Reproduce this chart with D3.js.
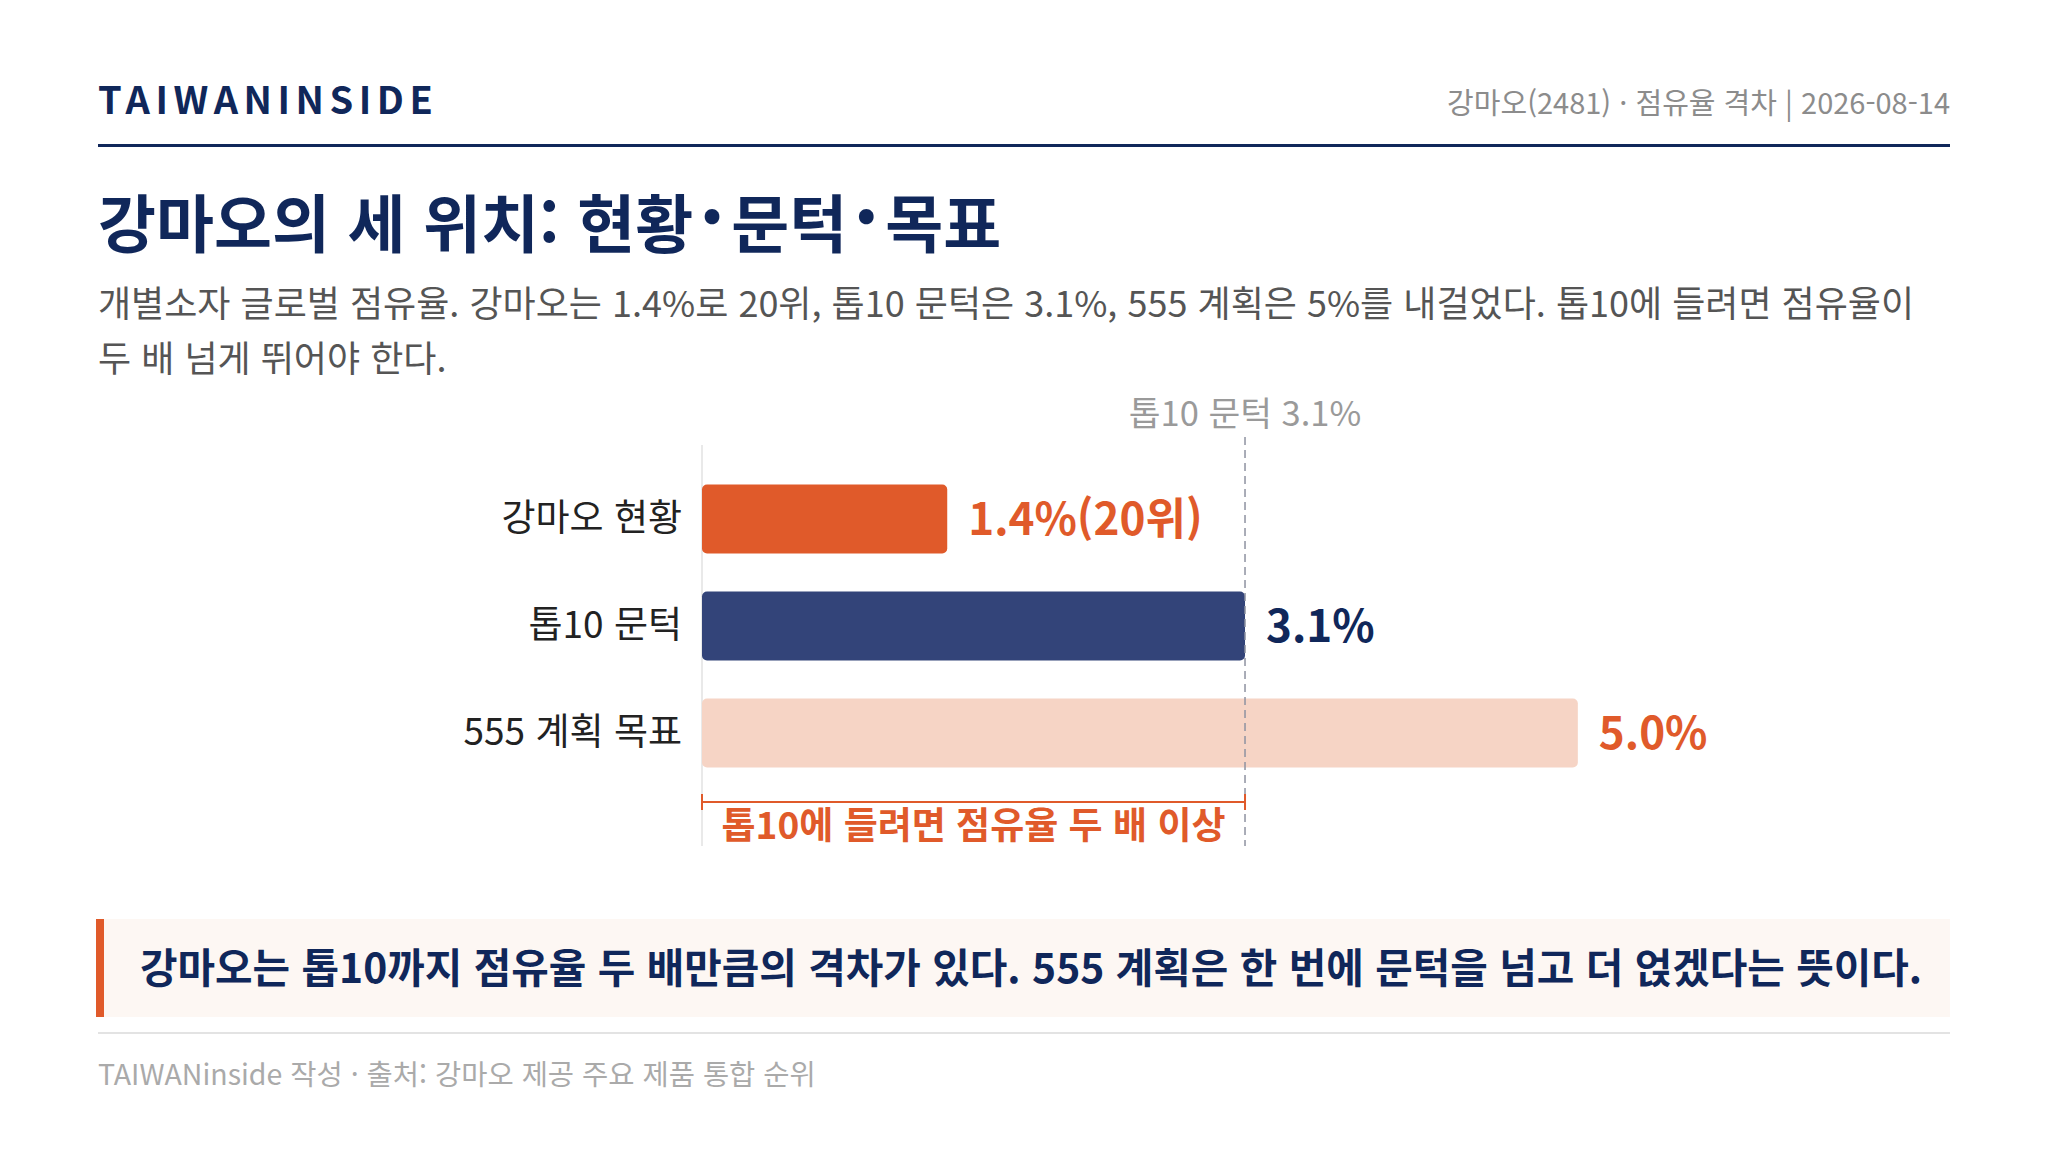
<!DOCTYPE html>
<html lang="ko">
<head>
<meta charset="utf-8">
<script src="https://cdn.jsdelivr.net/npm/d3@7"></script>
<style>
  html, body { margin: 0; padding: 0; background: #fff; }
  svg { display: block; font-family: "Noto Sans CJK KR", "Noto Sans", sans-serif; }
</style>
</head>
<body>
<div id="chart"></div>
<script>
// data
const categories = ["강마오 현황", "톱10 문턱", "555 계획 목표"];
const shares = [1.4, 3.1, 5.0];
const valueLabels = ["1.4%(20위)", "3.1%", "5.0%"];
const threshold = 3.1;
const thresholdLabel = "톱10 문턱 3.1%";
const gapLabel = "톱10에 들려면 점유율 두 배 이상";

const titleText = "강마오의 세 위치: 현황·문턱·목표";
const subtitleLines = [
  "개별소자 글로벌 점유율. 강마오는 1.4%로 20위, 톱10 문턱은 3.1%, 555 계획은 5%를 내걸었다. 톱10에 들려면 점유율이",
  "두 배 넘게 뛰어야 한다."
];
const metaText = "강마오(2481) · 점유율 격차 | 2026-08-14";
const calloutText = "강마오는 톱10까지 점유율 두 배만큼의 격차가 있다. 555 계획은 한 번에 문턱을 넘고 더 얹겠다는 뜻이다.";
const footerText = "TAIWANinside 작성 · 출처: 강마오 제공 주요 제품 통합 순위";

const W = 2046, H = 1151;
const left = 98, right = 1950;
const navy = "#10275a";
const orange = "#e05a2a";
const barColors = ["#e05a2a", "#334479", "#f6d4c5"];
const labelColors = [orange, navy, orange];

const svg = d3.select("#chart").append("svg")
    .attr("width", W)
    .attr("height", H);

// header
svg.append("text")
    .attr("x", left).attr("y", 114)
    .attr("font-size", 38).attr("font-weight", 700)
    .attr("letter-spacing", 5.5)
    .attr("fill", navy)
    .text("TAIWANINSIDE");

svg.append("text")
    .attr("x", right).attr("y", 114)
    .attr("text-anchor", "end")
    .attr("font-size", 29)
    .attr("fill", "#8c8c8c")
    .text(metaText);

svg.append("rect")
    .attr("x", left).attr("y", 144)
    .attr("width", right - left).attr("height", 3)
    .attr("fill", navy);

// title, middle dots drawn a bit larger with some room around them
const title = svg.append("text")
    .attr("x", left).attr("y", 247)
    .attr("font-size", 63).attr("font-weight", 700)
    .attr("fill", navy);
titleText.split("·").forEach((part, i) => {
    if (i > 0) title.append("tspan").attr("dx", 6).attr("font-size", 80).text("·");
    title.append("tspan").attr("dx", i > 0 ? 6 : 0).text(part);
});

svg.append("g").selectAll("text")
    .data(subtitleLines)
    .enter().append("text")
    .attr("x", left)
    .attr("y", (d, i) => 317 + i * 55)
    .attr("font-size", 36)
    .attr("fill", "#555")
    .text(d => d);

// chart
const xScale = d3.scaleLinear().domain([0, 6]).range([702, 1753]);
const yScale = d3.scaleBand().domain(categories).range([447, 805])
    .paddingInner(0.355).paddingOuter(0.35);

const chart = svg.append("g");

chart.append("line")
    .attr("x1", xScale(0)).attr("x2", xScale(0))
    .attr("y1", 445).attr("y2", 846)
    .attr("stroke", "#e2e2e2").attr("stroke-width", 1.5);

const yAxis = d3.axisLeft(yScale).tickSize(0).tickPadding(20);
chart.append("g")
    .attr("transform", `translate(${xScale(0)},0)`)
    .call(yAxis)
    .call(g => g.select(".domain").remove())
    .selectAll("text")
    .attr("font-size", 37)
    .attr("font-family", "Noto Sans CJK KR")
    .attr("fill", "#222");

chart.selectAll(".bar")
    .data(shares)
    .enter().append("rect")
    .attr("class", "bar")
    .attr("x", xScale(0))
    .attr("y", (d, i) => yScale(categories[i]))
    .attr("width", d => xScale(d) - xScale(0))
    .attr("height", yScale.bandwidth())
    .attr("rx", 5)
    .attr("fill", (d, i) => barColors[i]);

chart.selectAll(".value")
    .data(shares)
    .enter().append("text")
    .attr("class", "value")
    .attr("x", d => xScale(d) + 21)
    .attr("y", (d, i) => yScale(categories[i]) + yScale.bandwidth() / 2)
    .attr("dy", "0.36em")
    .attr("font-size", 44).attr("font-weight", 700)
    .attr("fill", (d, i) => labelColors[i])
    .text((d, i) => valueLabels[i]);

// threshold marker
chart.append("line")
    .attr("x1", xScale(threshold)).attr("x2", xScale(threshold))
    .attr("y1", 437).attr("y2", 846)
    .attr("stroke", "#8e92a0").attr("stroke-width", 1.5)
    .attr("stroke-dasharray", "8 5");

chart.append("text")
    .attr("x", xScale(threshold)).attr("y", 426)
    .attr("text-anchor", "middle")
    .attr("font-size", 34.5)
    .attr("fill", "#9a9a9a")
    .text(thresholdLabel);

// gap bracket
const bracketY = 802;
chart.append("path")
    .attr("d", `M${xScale(0)},${bracketY - 8}V${bracketY + 8}M${xScale(0)},${bracketY}H${xScale(threshold)}M${xScale(threshold)},${bracketY - 8}V${bracketY + 8}`)
    .attr("fill", "none")
    .attr("stroke", orange).attr("stroke-width", 2);

chart.append("text")
    .attr("x", (xScale(0) + xScale(threshold)) / 2).attr("y", 839)
    .attr("text-anchor", "middle")
    .attr("font-size", 37).attr("font-weight", 700)
    .attr("fill", orange)
    .text(gapLabel);

// callout
svg.append("rect")
    .attr("x", left).attr("y", 919)
    .attr("width", right - left).attr("height", 98)
    .attr("fill", "#fdf7f3");
svg.append("rect")
    .attr("x", 96).attr("y", 919)
    .attr("width", 8).attr("height", 98)
    .attr("fill", orange);
svg.append("text")
    .attr("x", 140).attr("y", 983)
    .attr("font-size", 40.8).attr("font-weight", 700)
    .attr("fill", navy)
    .text(calloutText);

// footer
svg.append("rect")
    .attr("x", left).attr("y", 1032)
    .attr("width", right - left).attr("height", 2)
    .attr("fill", "#e3e3e3");
svg.append("text")
    .attr("x", left).attr("y", 1085)
    .attr("font-size", 28.5)
    .attr("fill", "#aaa")
    .text(footerText);
</script>
</body>
</html>
